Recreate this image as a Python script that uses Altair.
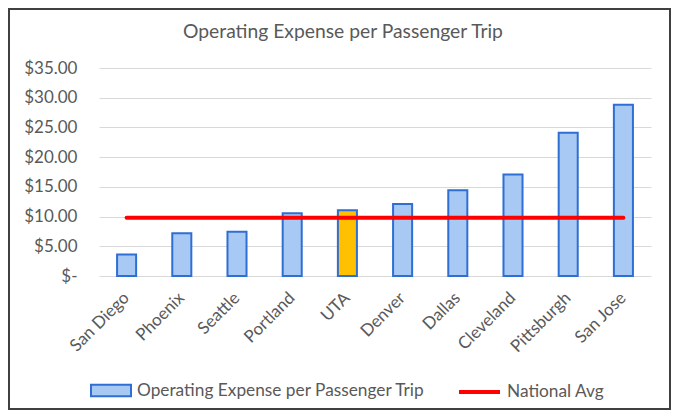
import altair as alt
import pandas as pd

cities = ["San Diego", "Phoenix", "Seattle", "Portland", "UTA",
          "Denver", "Dallas", "Cleveland", "Pittsburgh", "San Jose"]
expense = [3.6, 7.2, 7.45, 10.55, 11.05, 12.1, 14.45, 17.1, 24.1, 28.8]
national_avg = [9.8, 9.8, 9.8, 9.8, 9.8, 9.8, 9.8, 9.8, 9.8, 9.8]
y_ticks = [0, 5, 10, 15, 20, 25, 30, 35]
highlight = "UTA"
series_bar = "Operating Expense per Passenger Trip"
series_line = "National Avg"
title_text = "Operating Expense per Passenger Trip"

df = pd.DataFrame({
    "city": cities,
    "expense": expense,
    "avg": national_avg,
    "bar_series": [series_bar] * len(cities),
    "line_series": [series_line] * len(cities),
})

FONT = "Lato"
GREY = "#595959"
BAR_FILL = "#A9C9F5"
BAR_STROKE = "#2F6ED3"
HIGHLIGHT = "#FFC000"
RED = "#FF0000"

W, H = 552, 208

x_axis = alt.Axis(title=None, labelAngle=-45, labelAlign="right", labelBaseline="middle",
                  labelFontSize=17, labelColor=GREY, labelFont=FONT, ticks=False, tickSize=0,
                  domain=False, grid=False, labelPadding=19, labelOverlap=False)
x_scale = alt.Scale(paddingInner=0.655, paddingOuter=0.3275)
y_scale = alt.Scale(domain=[0, 35], nice=False, zero=True)
y_axis = alt.Axis(
    title=None, values=y_ticks, ticks=False, tickSize=0, domain=False,
    labelExpr="datum.value == 0 ? '$-\u00a0\u00a0' : format(datum.value, '$.2f')",
    labelFontSize=17, labelColor=GREY, labelFont=FONT, labelPadding=22, labelOverlap=False,
    grid=True, gridColor="#D9D9D9", gridWidth=1.2,
)

frame = alt.Chart(pd.DataFrame({"k": [0]})).mark_rect(
    fill="transparent", stroke="#404040", strokeWidth=2
).encode(
    x=alt.value(-90), x2=alt.value(W + 19), y=alt.value(-59), y2=alt.value(H + 133)
)

bars = alt.Chart(df).mark_bar(strokeWidth=2).encode(
    x=alt.X("city:N", sort=cities, scale=x_scale, axis=x_axis),
    y=alt.Y("expense:Q", scale=y_scale, axis=y_axis),
    fill=alt.condition(alt.datum.city == highlight, alt.value(HIGHLIGHT), alt.value(BAR_FILL)),
    stroke=alt.Stroke(
        "bar_series:N",
        scale=alt.Scale(domain=[series_bar], range=[BAR_STROKE]),
        legend=alt.Legend(
            title=None, orient="none", legendX=-9, legendY=301.5, padding=0,
            symbolType="M-1,-0.29L1,-0.29L1,0.29L-1,0.29Z", symbolSize=1600,
            symbolFillColor=BAR_FILL, symbolStrokeWidth=2, symbolOpacity=1,
            labelFontSize=17.3, labelColor=GREY, labelFont=FONT, labelOffset=5, labelLimit=500,
        ),
    ),
)

line = alt.Chart(df).mark_line(strokeWidth=4, strokeCap="round").encode(
    x=alt.X("city:N", sort=cities, scale=x_scale, axis=x_axis),
    y=alt.Y("avg:Q", scale=y_scale, axis=y_axis),
    stroke=alt.Stroke(
        "line_series:N",
        scale=alt.Scale(domain=[series_line], range=[RED]),
        legend=alt.Legend(
            title=None, orient="none", legendX=358, legendY=301.5, padding=0,
            symbolType="stroke", symbolSize=1681, symbolStrokeWidth=4,
            labelFontSize=17.3, labelColor=GREY, labelFont=FONT, labelOffset=5, labelLimit=500,
        ),
    ),
)

chart = alt.layer(frame, bars, line).resolve_scale(stroke="independent").properties(
    width=W, height=H,
    autosize=alt.AutoSizeParams(type="none"),
    padding={"left": 91, "top": 60, "right": 20, "bottom": 134},
    title=alt.Title(title_text, fontSize=19.3, color=GREY, font=FONT, fontWeight="normal",
                    anchor="middle", dx=-32, offset=-49, baseline="alphabetic"),
).configure_view(stroke=None)

chart.save("out.html", embed_options={"renderer": "svg", "actions": False})
